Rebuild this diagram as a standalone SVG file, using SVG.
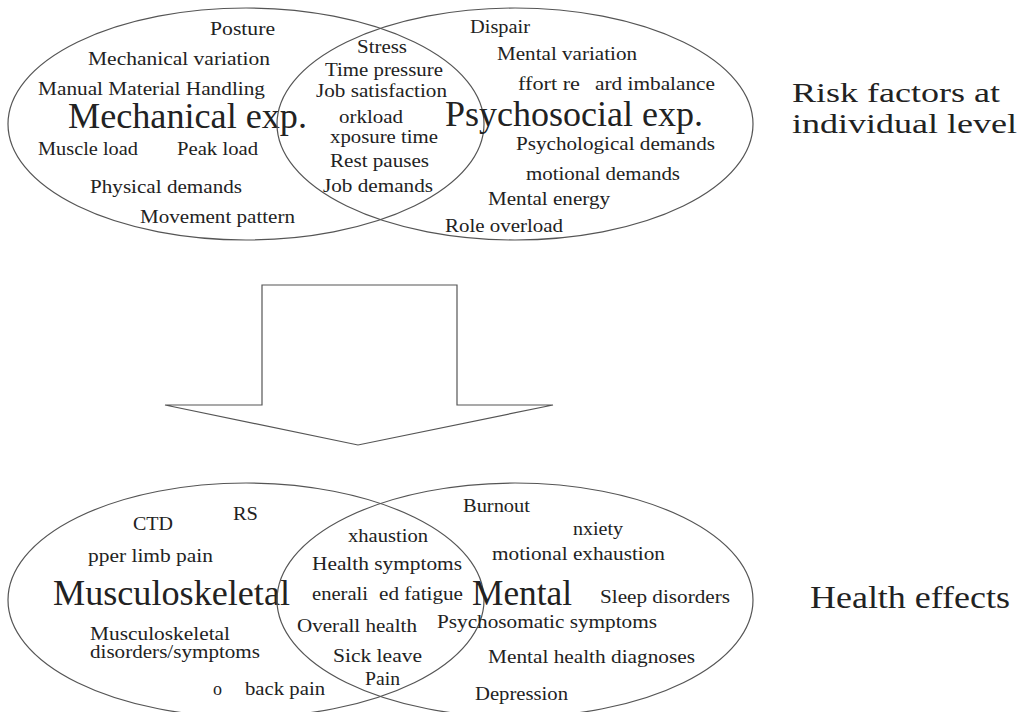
<svg xmlns="http://www.w3.org/2000/svg" width="1022" height="712" viewBox="0 0 1022 712">
<style>
.e{fill:none;stroke:#555;stroke-width:1.2}
text{font-family:"Liberation Serif","Times New Roman",serif;fill:#222}
.s{font-size:18px}
.b{font-size:35px}
.l{font-size:31px}
.r{font-size:27px}
.arrow{fill:#fff;stroke:#555;stroke-width:1.2;stroke-linejoin:miter}
</style>
<rect width="1022" height="712" fill="#fff"/>
<g id="mechanical-exp">
<ellipse class="e" cx="246" cy="124" rx="238" ry="116"/>
<text class="s" x="210" y="35" textLength="65" lengthAdjust="spacingAndGlyphs">Posture</text>
<text class="s" x="88" y="65" textLength="182" lengthAdjust="spacingAndGlyphs">Mechanical variation</text>
<text class="s" x="38" y="95" textLength="227" lengthAdjust="spacingAndGlyphs">Manual Material Handling</text>
<text class="b" x="68" y="128" textLength="239" lengthAdjust="spacingAndGlyphs">Mechanical exp.</text>
<text class="s" x="38" y="155" textLength="100" lengthAdjust="spacingAndGlyphs">Muscle load</text>
<text class="s" x="177" y="155" textLength="81" lengthAdjust="spacingAndGlyphs">Peak load</text>
<text class="s" x="90" y="193" textLength="152" lengthAdjust="spacingAndGlyphs">Physical demands</text>
<text class="s" x="140" y="223" textLength="155" lengthAdjust="spacingAndGlyphs">Movement pattern</text>
</g>
<g id="psychosocial-exp">
<ellipse class="e" cx="515" cy="124" rx="238" ry="116"/>
<text class="s" x="470" y="33" textLength="60" lengthAdjust="spacingAndGlyphs">Dispair</text>
<text class="s" x="497" y="60" textLength="140" lengthAdjust="spacingAndGlyphs">Mental variation</text>
<text class="s" x="518" y="90" textLength="62" lengthAdjust="spacingAndGlyphs">ffort re</text>
<text class="s" x="595" y="90" textLength="120" lengthAdjust="spacingAndGlyphs">ard imbalance</text>
<text class="b" x="445" y="126" textLength="258" lengthAdjust="spacingAndGlyphs">Psychosocial exp.</text>
<text class="s" x="516" y="150" textLength="199" lengthAdjust="spacingAndGlyphs">Psychological demands</text>
<text class="s" x="526" y="180" textLength="154" lengthAdjust="spacingAndGlyphs">motional demands</text>
<text class="s" x="488" y="205" textLength="122" lengthAdjust="spacingAndGlyphs">Mental energy</text>
<text class="s" x="445" y="232" textLength="118" lengthAdjust="spacingAndGlyphs">Role overload</text>
</g>
<g id="shared-exposure">
<text class="s" x="357" y="53" textLength="50" lengthAdjust="spacingAndGlyphs">Stress</text>
<text class="s" x="325" y="76" textLength="118" lengthAdjust="spacingAndGlyphs">Time pressure</text>
<text class="s" x="316" y="97" textLength="131" lengthAdjust="spacingAndGlyphs">Job satisfaction</text>
<text class="s" x="339" y="123" textLength="64" lengthAdjust="spacingAndGlyphs">orkload</text>
<text class="s" x="330" y="143" textLength="108" lengthAdjust="spacingAndGlyphs">xposure time</text>
<text class="s" x="330" y="167" textLength="99" lengthAdjust="spacingAndGlyphs">Rest pauses</text>
<text class="s" x="323" y="192" textLength="110" lengthAdjust="spacingAndGlyphs">Job demands</text>
</g>
<g id="risk-label">
<text class="r" x="792" y="102" textLength="208" lengthAdjust="spacingAndGlyphs">Risk factors at</text>
<text class="r" x="792" y="133" textLength="225" lengthAdjust="spacingAndGlyphs">individual level</text>
</g>
<g id="connectors">
<polygon class="arrow" points="262,285 457,285 457,405 553,405 358,445 165,405 262,405"/>
</g>
<g id="musculoskeletal">
<ellipse class="e" cx="246" cy="600" rx="238" ry="117"/>
<text class="s" x="133" y="530" textLength="40" lengthAdjust="spacingAndGlyphs">CTD</text>
<text class="s" x="233" y="520" textLength="25" lengthAdjust="spacingAndGlyphs">RS</text>
<text class="s" x="88" y="562" textLength="125" lengthAdjust="spacingAndGlyphs">pper limb pain</text>
<text class="b" x="53" y="605" textLength="237" lengthAdjust="spacingAndGlyphs">Musculoskeletal</text>
<text class="s" x="90" y="640" textLength="140" lengthAdjust="spacingAndGlyphs">Musculoskeletal</text>
<text class="s" x="90" y="658" textLength="170" lengthAdjust="spacingAndGlyphs">disorders/symptoms</text>
<text class="s" x="213" y="695" textLength="9" lengthAdjust="spacingAndGlyphs">o</text>
<text class="s" x="245" y="695" textLength="80" lengthAdjust="spacingAndGlyphs">back pain</text>
</g>
<g id="mental">
<ellipse class="e" cx="515" cy="600" rx="238" ry="117"/>
<text class="s" x="463" y="512" textLength="67" lengthAdjust="spacingAndGlyphs">Burnout</text>
<text class="s" x="573" y="535" textLength="50" lengthAdjust="spacingAndGlyphs">nxiety</text>
<text class="s" x="492" y="560" textLength="173" lengthAdjust="spacingAndGlyphs">motional exhaustion</text>
<text class="b" x="472" y="605" textLength="100" lengthAdjust="spacingAndGlyphs">Mental</text>
<text class="s" x="600" y="603" textLength="130" lengthAdjust="spacingAndGlyphs">Sleep disorders</text>
<text class="s" x="437" y="628" textLength="220" lengthAdjust="spacingAndGlyphs">Psychosomatic symptoms</text>
<text class="s" x="488" y="663" textLength="207" lengthAdjust="spacingAndGlyphs">Mental health diagnoses</text>
<text class="s" x="475" y="700" textLength="93" lengthAdjust="spacingAndGlyphs">Depression</text>
</g>
<g id="shared-health">
<text class="s" x="348" y="542" textLength="80" lengthAdjust="spacingAndGlyphs">xhaustion</text>
<text class="s" x="312" y="570" textLength="150" lengthAdjust="spacingAndGlyphs">Health symptoms</text>
<text class="s" x="312" y="600" textLength="56" lengthAdjust="spacingAndGlyphs">enerali</text>
<text class="s" x="379" y="600" textLength="84" lengthAdjust="spacingAndGlyphs">ed fatigue</text>
<text class="s" x="297" y="632" textLength="120" lengthAdjust="spacingAndGlyphs">Overall health</text>
<text class="s" x="333" y="662" textLength="89" lengthAdjust="spacingAndGlyphs">Sick leave</text>
<text class="s" x="365" y="685" textLength="35" lengthAdjust="spacingAndGlyphs">Pain</text>
</g>
<g id="health-label">
<text class="l" x="810" y="608" textLength="200" lengthAdjust="spacingAndGlyphs">Health effects</text>
</g>
</svg>
